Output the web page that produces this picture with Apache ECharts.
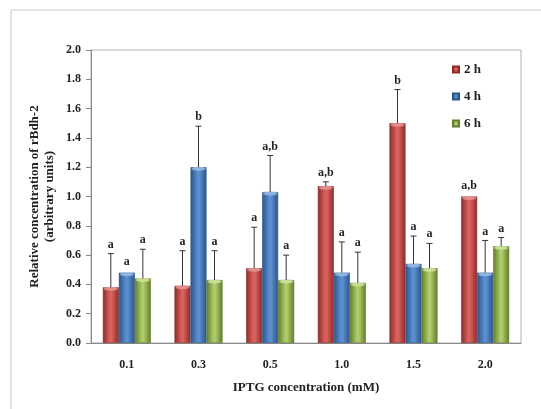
<!DOCTYPE html>
<html><head><meta charset="utf-8">
<script src="https://cdn.jsdelivr.net/npm/echarts@6/dist/echarts.min.js"></script>
<style>html,body{margin:0;padding:0;background:#fff}#c{width:541px;height:409px}</style>
</head><body><div id="c"></div>
<script>
const categories = ['0.1','0.3','0.5','1.0','1.5','2.0'];
const seriesNames = ['2 h','4 h','6 h'];
const values2h = [0.38, 0.39, 0.51, 1.07, 1.50, 1.00];
const values4h = [0.48, 1.20, 1.03, 0.48, 0.54, 0.48];
const values6h = [0.44, 0.43, 0.43, 0.41, 0.51, 0.66];
const err2h = [0.23, 0.24, 0.28, 0.03, 0.23, 0.01];
const err4h = [0.01, 0.28, 0.25, 0.21, 0.19, 0.22];
const err6h = [0.20, 0.20, 0.17, 0.21, 0.17, 0.06];
const labels2h = ['a','a','a','a,b','b','a,b'];
const labels4h = ['a','b','a,b','a','a','a'];
const labels6h = ['a','a','a','a','a','a'];

const values = [values2h, values4h, values6h];
const errs = [err2h, err4h, err6h];
const sigs = [labels2h, labels4h, labels6h];
const colors = [
  {dark:'#8c2b28', mid:'#d9625e', base:'#c0504d', light:'#e79a97'},
  {dark:'#2b5488', mid:'#5b8fd0', base:'#4f81bd', light:'#9dbfe6'},
  {dark:'#627a2c', mid:'#aecd6a', base:'#9bbb59', light:'#d2e6a3'}
];
const serif = '"Liberation Serif","Times New Roman",serif';
const catGapPct = 0.33;

function grad(c){
  return {type:'linear',x:0,y:0,x2:1,y2:0,colorStops:[
    {offset:0,color:c.dark},{offset:0.45,color:c.mid},{offset:0.55,color:c.mid},{offset:1,color:c.dark}]};
}

const series = [];
values.forEach((vals,si)=>{
  series.push({
    name: seriesNames[si], type:'bar', data: vals, barGap:'0%', barCategoryGap:(catGapPct*100)+'%',
    itemStyle:{color:grad(colors[si]), borderColor:colors[si].dark, borderWidth:0.6},
    emphasis:{disabled:true}
  });
});
values.forEach((vals,si)=>{
  series.push({
    type:'custom', silent:true, z:5,
    data: vals.map((v,i)=>[i, v, v+errs[si][i], sigs[si][i]]),
    renderItem:function(params, api){
      const band = api.size([1,0])[0];
      const bw = band*(1-catGapPct)/3;
      const off = (si-1)*bw;
      const base = api.coord([api.value(0), api.value(1)]);
      const top = api.coord([api.value(0), api.value(2)]);
      const x = base[0]+off;
      const children = [];
      children.push({type:'ellipse', shape:{cx:x, cy:base[1]+1.5, rx:bw/2-1, ry:2},
        style:{fill:colors[si].light, opacity:0.8}});
      if (top[1] < base[1]-1.5) {
        children.push({type:'line', shape:{x1:x,y1:base[1],x2:x,y2:top[1]}, style:{stroke:'#333',lineWidth:1}});
        children.push({type:'line', shape:{x1:x-3,y1:top[1],x2:x+3,y2:top[1]}, style:{stroke:'#333',lineWidth:1}});
      }
      children.push({type:'text', style:{text:api.value(3), x:x, y:top[1]-3, align:'center', verticalAlign:'bottom',
        font:'bold 12px '+serif, fill:'#222'}});
      return {type:'group', children};
    }
  });
});

const chart = echarts.init(document.getElementById('c'));
chart.setOption({
  animation:false,
  backgroundColor:'#fff',
  graphic:[{type:'rect', shape:{x:11,y:10,width:600,height:500}, style:{fill:'none',stroke:'#c8c8c8',lineWidth:1}, z:-1}],
  grid:{left:91, right:20, top:50, bottom:66, show:true, borderColor:'#b0b0b0', borderWidth:1},
  legend:{
    data:seriesNames, orient:'vertical', left:447, top:58, itemWidth:6, itemHeight:6, itemGap:14,
    icon:'rect', textStyle:{fontFamily:serif, fontWeight:'bold', fontSize:13, color:'#222'},
    selectedMode:false
  },
  color:colors.map(c=>c.base),
  xAxis:{
    type:'category', data:categories,
    axisLine:{lineStyle:{color:'#8a8a8a'}},
    axisTick:{length:5, lineStyle:{color:'#8a8a8a'}},
    axisLabel:{margin:16, fontFamily:serif, fontWeight:'bold', fontSize:12, color:'#222'},
    name:'IPTG concentration (mM)', nameLocation:'middle', nameGap:38, nameMoveOverlap:false,
    nameTextStyle:{fontFamily:serif, fontWeight:'bold', fontSize:13, color:'#222'}
  },
  yAxis:{
    type:'value', min:0, max:2, interval:0.2,
    axisLine:{show:true, lineStyle:{color:'#8a8a8a'}},
    axisTick:{show:true, length:5, lineStyle:{color:'#8a8a8a'}},
    splitLine:{show:false},
    axisLabel:{margin:10, fontFamily:serif, fontWeight:'bold', fontSize:12, color:'#222', formatter:v=>v.toFixed(1)},
    name:'Relative concentration of rBdh-2\n(arbitrary units)', nameLocation:'middle', nameGap:34, nameRotate:90,
    nameMoveOverlap:false,
    nameTextStyle:{fontFamily:serif, fontWeight:'bold', fontSize:13, color:'#222', lineHeight:15}
  },
  series
});
</script></body></html>
